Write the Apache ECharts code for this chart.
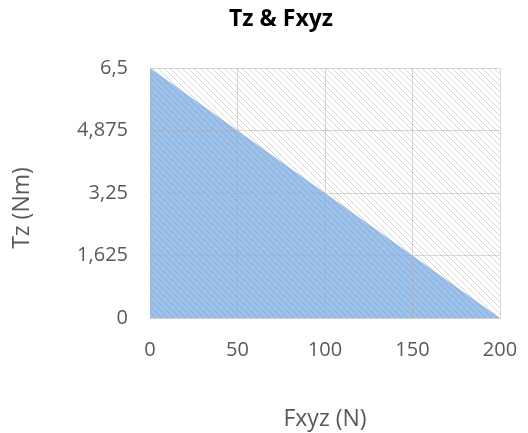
<!DOCTYPE html>
<html><head><meta charset="utf-8">
<script src="https://cdn.jsdelivr.net/npm/echarts@6/dist/echarts.min.js"></script>
<style>html,body{margin:0;padding:0;background:#fff}#c{width:528px;height:433px}</style>
</head><body><div id="c"></div>
<script>
const titleText = 'Tz & Fxyz';
const xName = 'Fxyz (N)';
const yName = 'Tz (Nm)';
const xTicks = [0, 50, 100, 150, 200];
const yTicks = [0, 1.625, 3.25, 4.875, 6.5];
const fxyz = [0, 200];
const tz = [6.5, 0];
const bgTop = [6.5, 6.5];

function hatch(bg, fg, s) {
  const c = document.createElement('canvas');
  c.width = s; c.height = s;
  const g = c.getContext('2d');
  g.fillStyle = bg; g.fillRect(0, 0, s, s);
  g.fillStyle = fg;
  for (let x = 0; x < s; x++) {
    g.fillRect(x, x, 1, 1);
  }
  return c;
}
const greyPat = { image: hatch('#ffffff', '#d6d6d6', 6), repeat: 'repeat' };
const bluePat = { image: hatch('#9cc1ea', '#8aaed8', 6), repeat: 'repeat' };

const fmt = v => String(v).replace('.', ',');
const chart = echarts.init(document.getElementById('c'));
chart.setOption({
  animation: false,
  title: { text: titleText, left: 276, top: 3, textAlign: 'center',
    textStyle: { fontFamily: 'Open Sans', fontWeight: 'bold', fontSize: 23, color: '#000' } },
  grid: { left: 150, right: 28, top: 68, bottom: 115, outerBoundsMode: 'none', containLabel: false },
  xAxis: {
    type: 'value', min: xTicks[0], max: xTicks[xTicks.length - 1], interval: 50, z: 5,
    name: xName, nameLocation: 'middle', nameGap: 90,
    nameTextStyle: { fontFamily: 'Open Sans', fontSize: 23, color: '#595959' },
    axisLine: { show: true, lineStyle: { color: '#d0d0d0' } },
    axisTick: { show: false },
    axisLabel: { fontFamily: 'Open Sans', fontSize: 20, color: '#595959', margin: 22 },
    splitLine: { show: true, lineStyle: { color: 'rgba(170,170,170,0.45)' } }
  },
  yAxis: {
    type: 'value', min: yTicks[0], max: yTicks[yTicks.length - 1], interval: 1.625, z: 5,
    name: yName, nameLocation: 'middle', nameGap: 116,
    nameTextStyle: { fontFamily: 'Open Sans', fontSize: 23, color: '#595959', padding: [0, 30, 0, 0] },
    axisLine: { show: false },
    axisTick: { show: false },
    axisLabel: { fontFamily: 'Open Sans', fontSize: 20, color: '#595959', margin: 22, formatter: fmt },
    splitLine: { show: true, lineStyle: { color: 'rgba(170,170,170,0.45)' } }
  },
  series: [
    { type: 'line', data: fxyz.map((x, i) => [x, bgTop[i]]), symbol: 'none', z: 1,
      lineStyle: { width: 0 }, areaStyle: { color: greyPat, opacity: 1 } },
    { type: 'line', data: fxyz.map((x, i) => [x, tz[i]]), symbol: 'none', z: 2,
      lineStyle: { width: 0 }, areaStyle: { color: bluePat, opacity: 1 } }
  ]
});
</script></body></html>
